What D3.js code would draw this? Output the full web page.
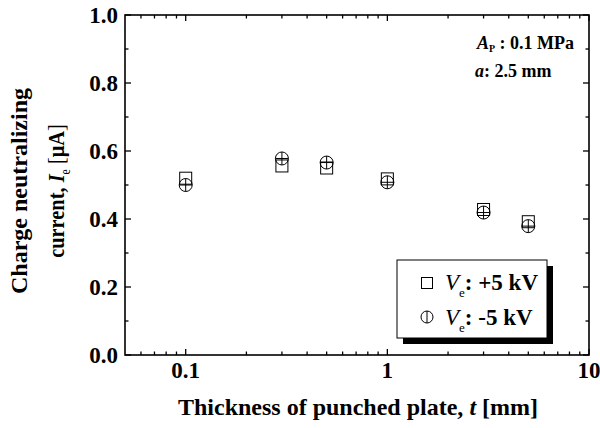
<!DOCTYPE html>
<html>
<head>
<meta charset="utf-8">
<script src="https://cdn.jsdelivr.net/npm/d3@7"></script>
<style>
  body { margin: 0; background: #fff; }
  svg text { font-family: "Liberation Serif", "Times New Roman", serif; font-weight: bold; }
</style>
</head>
<body>
<svg id="chart" width="600" height="428"></svg>
<script>
// thickness of punched plate [mm]
const thickness = [0.1, 0.3, 0.5, 1, 3, 5];
// charge neutralizing current [uA]
const currentPos = [0.52, 0.556, 0.55, 0.518, 0.428, 0.392];
const currentNeg = [0.50, 0.578, 0.566, 0.508, 0.419, 0.379];
const xTicks = [0.1, 1, 10];
const yTicks = [0, 0.2, 0.4, 0.6, 0.8, 1.0];

const svg = d3.select('#chart');
const pLeft = 125, pRight = 589, pTop = 15, pBottom = 355;

const x = d3.scaleLog().domain([0.05, 10]).range([pLeft, pRight]);
const y = d3.scaleLinear().domain([0, 1]).range([pBottom, pTop]);

// minor ticks
let xMinor = [];
[0.01, 0.1, 1].forEach(dec => {
  for (let k = 2; k <= 9; k++) {
    const v = dec * k;
    if (v > 0.05 && v < 10) xMinor.push(v);
  }
});
const yMinor = d3.range(0.1, 1, 0.2);

const g = svg.append('g');

// ticks (inward, mirrored on top/right)
const tk = g.append('g').attr('stroke', '#000').attr('stroke-width', 1.3);
xTicks.forEach(v => {
  tk.append('line').attr('x1', x(v)).attr('x2', x(v)).attr('y1', pBottom).attr('y2', pBottom - 6);
  tk.append('line').attr('x1', x(v)).attr('x2', x(v)).attr('y1', pTop).attr('y2', pTop + 6);
});
xMinor.forEach(v => {
  tk.append('line').attr('x1', x(v)).attr('x2', x(v)).attr('y1', pBottom).attr('y2', pBottom - 3.5);
  tk.append('line').attr('x1', x(v)).attr('x2', x(v)).attr('y1', pTop).attr('y2', pTop + 3.5);
});
yTicks.forEach(v => {
  tk.append('line').attr('x1', pLeft).attr('x2', pLeft + 6).attr('y1', y(v)).attr('y2', y(v));
  tk.append('line').attr('x1', pRight).attr('x2', pRight - 6).attr('y1', y(v)).attr('y2', y(v));
});
yMinor.forEach(v => {
  tk.append('line').attr('x1', pLeft).attr('x2', pLeft + 3.5).attr('y1', y(v)).attr('y2', y(v));
  tk.append('line').attr('x1', pRight).attr('x2', pRight - 3.5).attr('y1', y(v)).attr('y2', y(v));
});

// frame
g.append('rect')
  .attr('x', pLeft).attr('y', pTop)
  .attr('width', pRight - pLeft).attr('height', pBottom - pTop)
  .attr('fill', 'none').attr('stroke', '#000').attr('stroke-width', 1.6);

// tick labels
g.selectAll('.xlab').data(xTicks).enter().append('text')
  .attr('x', d => x(d)).attr('y', pBottom + 23)
  .attr('text-anchor', 'middle').attr('font-size', '23px')
  .text(d => d3.format('~g')(d));

g.selectAll('.ylab').data(yTicks).enter().append('text')
  .attr('x', pLeft - 7).attr('y', d => y(d) + 8)
  .attr('text-anchor', 'end').attr('font-size', '23px')
  .text(d => d.toFixed(1));

// x title
const xt = g.append('text')
  .attr('x', (pLeft + pRight) / 2 + 1).attr('y', 415)
  .attr('text-anchor', 'middle').attr('font-size', '24px');
xt.append('tspan').text('Thickness of punched plate, ');
xt.append('tspan').attr('font-style', 'italic').text('t');
xt.append('tspan').text(' [mm]');

// y title (two lines)
const yt = g.append('g').attr('transform', 'translate(0,191) rotate(-90)');
yt.append('text').attr('x', 0).attr('y', 27)
  .attr('text-anchor', 'middle').attr('font-size', '24px')
  .text('Charge neutralizing');
// second line is drawn narrower, as in the original figure
const yt2 = yt.append('text').attr('x', 0).attr('y', 64)
  .attr('transform', 'scale(0.85,1)')
  .attr('text-anchor', 'middle').attr('font-size', '24px');
yt2.append('tspan').text('current, ');
yt2.append('tspan').attr('font-style', 'italic').text('I');
yt2.append('tspan').attr('font-size', '14px').attr('font-weight', 'normal').attr('dy', 6).text('e');
yt2.append('tspan').attr('dy', -6).attr('font-weight', 'normal').text(' [');
yt2.append('tspan').text('μA');
yt2.append('tspan').attr('font-weight', 'normal').text(']');

// annotation
const a1 = g.append('text').attr('x', 574).attr('y', 49)
  .attr('text-anchor', 'end').attr('font-size', '18px');
a1.append('tspan').attr('font-style', 'italic').text('A');
a1.append('tspan').attr('font-size', '10px').attr('dy', 3).text('P');
a1.append('tspan').attr('dy', -3).text(' : 0.1 MPa');
const a2 = g.append('text').attr('x', 475).attr('y', 77).attr('font-size', '18px');
a2.append('tspan').attr('font-style', 'italic').text('a');
a2.append('tspan').text(': 2.5 mm');

// markers
const ms = 12, mr = 6.5;
const pts = g.append('g').attr('fill', 'none').attr('stroke', '#000').attr('stroke-width', 1);

pts.selectAll('.sq').data(thickness).enter().append('rect')
  .attr('x', (d, i) => x(d) - ms / 2).attr('y', (d, i) => y(currentPos[i]) - ms / 2)
  .attr('width', ms).attr('height', ms).attr('fill', 'none');

const circ = pts.selectAll('.ci').data(thickness).enter().append('g')
  .attr('transform', (d, i) => 'translate(' + x(d) + ',' + y(currentNeg[i]) + ')');
circ.append('circle').attr('r', mr);
circ.append('line').attr('x1', 0).attr('x2', 0).attr('y1', -mr).attr('y2', mr);
circ.append('line').attr('x1', -mr).attr('x2', mr).attr('y1', 0).attr('y2', 0);

// legend
const lg = g.append('g');
lg.append('rect').attr('x', 403).attr('y', 266).attr('width', 150).attr('height', 78).attr('fill', '#000');
lg.append('rect').attr('x', 397).attr('y', 260).attr('width', 150).attr('height', 78)
  .attr('fill', '#fff').attr('stroke', '#000').attr('stroke-width', 1);
lg.append('rect').attr('x', 427 - 5.5).attr('y', 283 - 5.5).attr('width', 11).attr('height', 11)
  .attr('fill', 'none').attr('stroke', '#000');
lg.append('circle').attr('cx', 427).attr('cy', 317).attr('r', 6).attr('fill', 'none').attr('stroke', '#000');
lg.append('line').attr('x1', 427).attr('x2', 427).attr('y1', 311).attr('y2', 323).attr('stroke', '#000');

const labels = [': +5 kV', ': -5 kV'];
labels.forEach((s, i) => {
  const t = lg.append('text').attr('x', 445).attr('y', 290 + i * 35).attr('font-size', '23px');
  t.append('tspan').attr('font-style', 'italic').attr('font-weight', 'normal').text('V');
  t.append('tspan').attr('font-size', '13px').attr('font-weight', 'normal').attr('dy', 7).text('e');
  t.append('tspan').attr('dy', -7).text(s);
});
</script>
</body>
</html>
